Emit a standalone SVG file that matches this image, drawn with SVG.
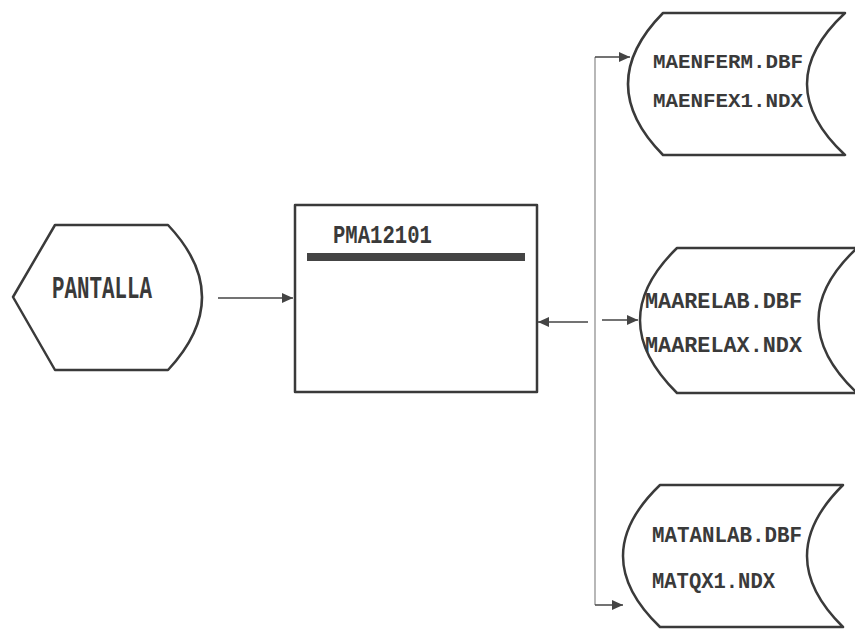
<svg xmlns="http://www.w3.org/2000/svg" width="855" height="631" viewBox="0 0 855 631">
<style>
.shape{fill:#fff;stroke:#3a3a3a;stroke-width:2.5;stroke-linejoin:round}
.txt{font-family:"Liberation Mono","DejaVu Sans Mono",monospace;fill:#3a3a3a;font-weight:bold}
.conn{stroke:#444;stroke-width:1.5;fill:none}
.thin{stroke:#888;stroke-width:1.2;fill:none}
</style>
<defs>
<marker id="ah" markerWidth="12" markerHeight="12" refX="11" refY="6" orient="auto" markerUnits="userSpaceOnUse">
<path d="M0,1 L11,6 L0,11 Z" fill="#444"/>
</marker>
</defs>
<rect width="855" height="631" fill="#fff"/>
<g id="connectors">
<line class="conn" x1="218" y1="298" x2="293" y2="298" marker-end="url(#ah)"/>
<line class="conn" x1="588" y1="322" x2="538" y2="322" marker-end="url(#ah)"/>
<line class="thin" x1="595" y1="57" x2="595" y2="605"/>
<line class="conn" x1="595" y1="57" x2="630" y2="57" marker-end="url(#ah)"/>
<line class="conn" x1="602" y1="320" x2="638" y2="320" marker-end="url(#ah)"/>
<line class="conn" x1="595" y1="605" x2="623" y2="605" marker-end="url(#ah)"/>
</g>
<g id="pantalla">
<path class="shape" d="M55,225 L168,225 Q236,297 168,370 L55,370 L13,297 Z"/>
<text class="txt" x="52" y="298" font-size="32" textLength="100" lengthAdjust="spacingAndGlyphs">PANTALLA</text>
</g>
<g id="pma12101">
<rect class="shape" x="295" y="205" width="242" height="187"/>
<text class="txt" x="333" y="243" font-size="26" textLength="99" lengthAdjust="spacingAndGlyphs">PMA12101</text>
<rect x="307" y="253" width="218" height="8" fill="#444"/>
</g>
<g id="maenferm">
<path class="shape" d="M663,13 L845,13 Q769,84 845,155 L663,155 Q593,84 663,13 Z"/>
<text class="txt" x="653" y="68" font-size="21" textLength="150" lengthAdjust="spacingAndGlyphs">MAENFERM.DBF</text>
<text class="txt" x="653" y="107" font-size="21" textLength="150" lengthAdjust="spacingAndGlyphs">MAENFEX1.NDX</text>
</g>
<g id="maarelab">
<path class="shape" d="M677,248 L857,248 Q780,320 857,393 L677,393 Q603,320 677,248 Z"/>
<text class="txt" x="645" y="308" font-size="22" textLength="157" lengthAdjust="spacingAndGlyphs">MAARELAB.DBF</text>
<text class="txt" x="645" y="352" font-size="22" textLength="157" lengthAdjust="spacingAndGlyphs">MAARELAX.NDX</text>
</g>
<g id="matanlab">
<path class="shape" d="M660,485 L843,485 Q771,556 843,627 L660,627 Q586,556 660,485 Z"/>
<text class="txt" x="652" y="542" font-size="22" textLength="150" lengthAdjust="spacingAndGlyphs">MATANLAB.DBF</text>
<text class="txt" x="652" y="588" font-size="22" textLength="123" lengthAdjust="spacingAndGlyphs">MATQX1.NDX</text>
</g>
</svg>
